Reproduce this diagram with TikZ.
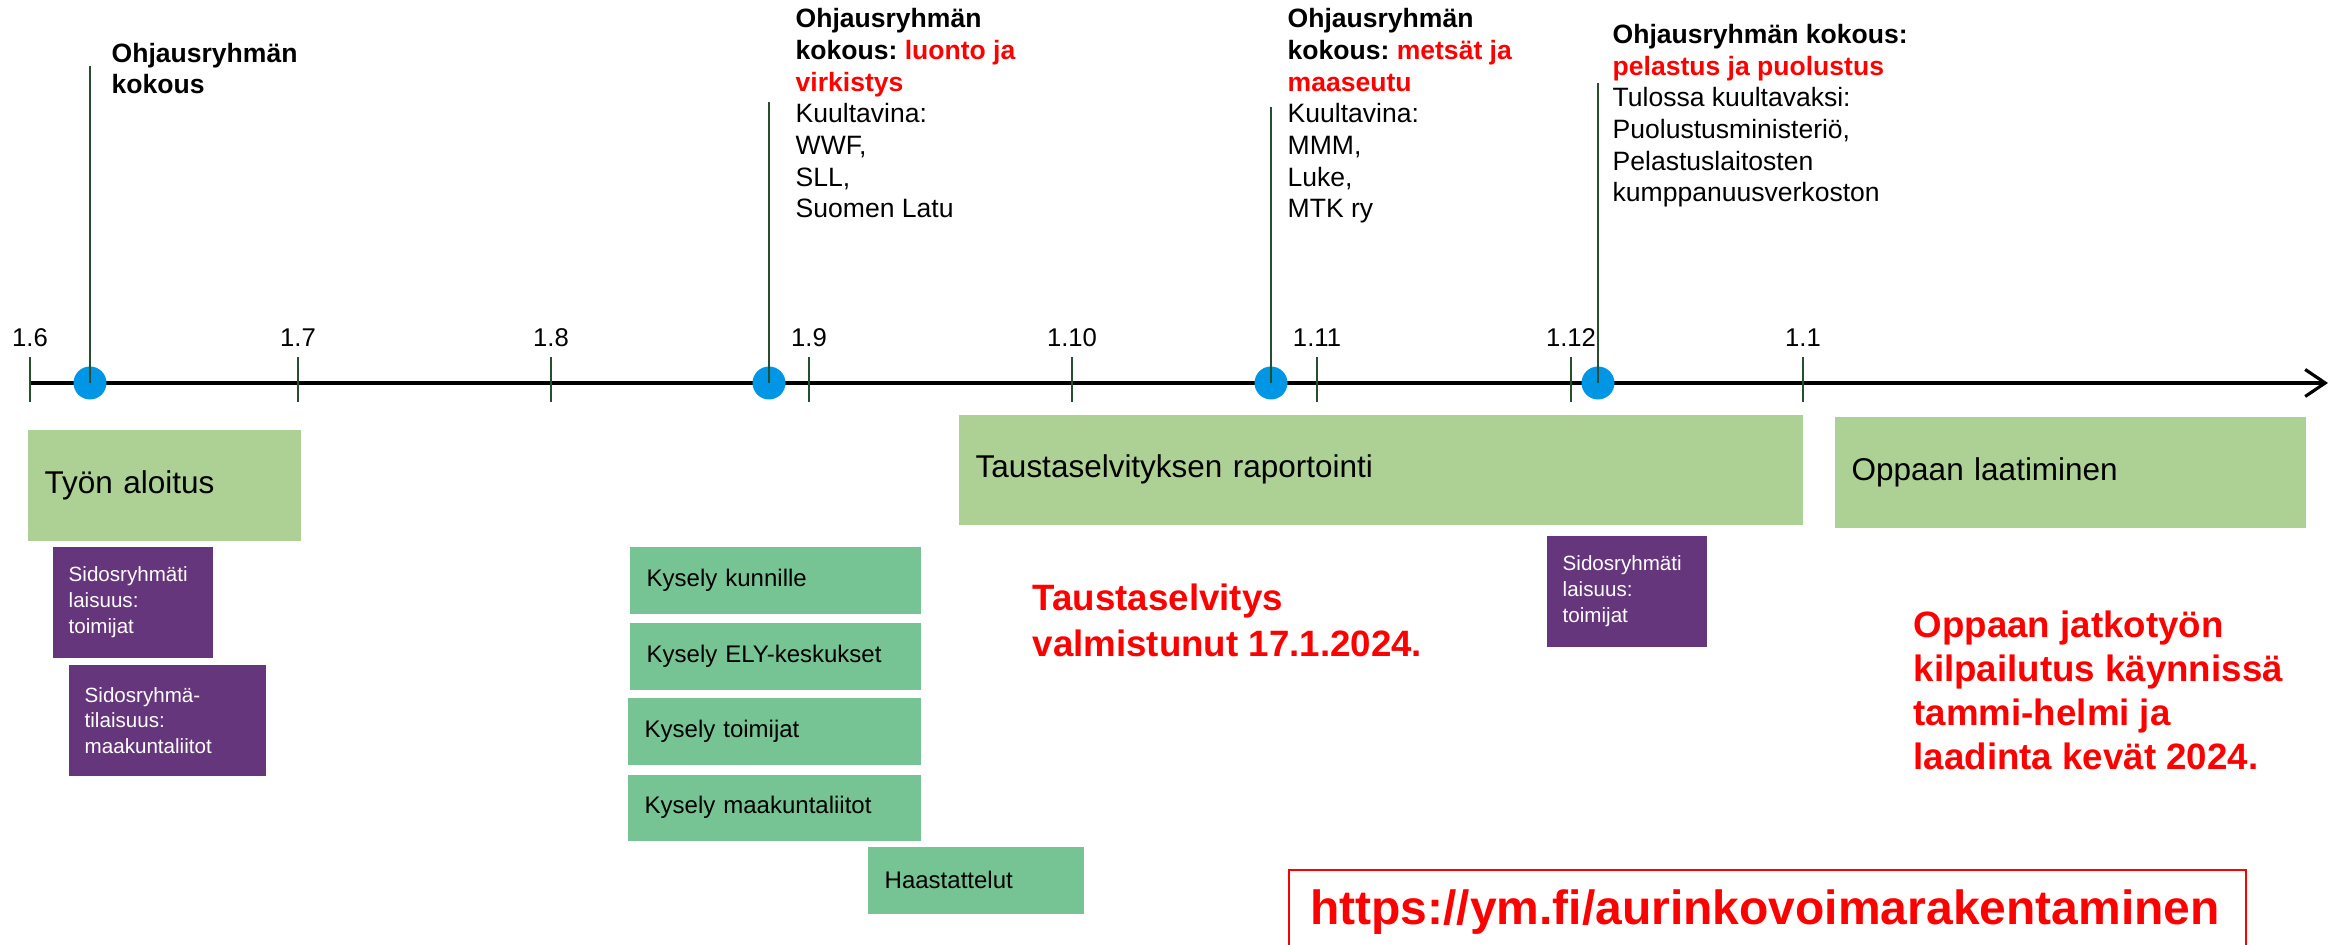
\documentclass[tikz,border=0pt]{standalone}
\usepackage{fontspec}
\setmainfont{Liberation Sans}
\frenchspacing
\usetikzlibrary{arrows.meta}
\definecolor{phasegreen}{RGB}{173,209,149}
\definecolor{taskgreen}{RGB}{118,195,147}
\definecolor{eventpurple}{RGB}{102,54,125}
\definecolor{dotblue}{RGB}{0,150,230}
\definecolor{stemgreen}{RGB}{40,78,48}

\begin{document}
\begin{tikzpicture}[
  timeline/.style={line width=0.9pt,-{Straight Barb[length=2mm,width=2.7mm]}},
  tickline/.style={draw=stemgreen,line width=0.55pt},
  stem/.style={draw=stemgreen,line width=0.55pt},
  dot/.style={circle,fill=dotblue,minimum size=3.3mm,inner sep=0pt},
  datelabel/.style={anchor=base,inner sep=0pt,font=\fontsize{7.3}{8.8}\selectfont},
  head/.style={anchor=base west,align=left,inner sep=0pt,font=\fontsize{7.55}{9.02}\selectfont},
  phase/.style={anchor=north west,fill=phasegreen,inner xsep=1.7mm,inner ysep=0pt,align=left,font=\fontsize{8.96}{10.8}\selectfont},
  task/.style={anchor=north west,fill=taskgreen,inner xsep=1.7mm,inner ysep=0pt,align=left,minimum height=6.7mm,font=\fontsize{6.83}{8.2}\selectfont},
  meet/.style={anchor=north west,fill=eventpurple,text=white,inner xsep=1.6mm,inner ysep=0pt,align=left,minimum height=11.1mm,font=\fontsize{5.86}{7.26}\selectfont},
  note/.style={anchor=base west,align=left,inner sep=0pt,text=red,font=\bfseries\fontsize{10.44}{13.1}\selectfont},
  link/.style={anchor=north west,draw=red,line width=0.6pt,inner xsep=2.1mm,inner ysep=0pt,text=red,font=\bfseries\fontsize{13.66}{16}\selectfont}]
\useasboundingbox (0,0) rectangle (23.31,9.45);

% Time axis with month ticks.
\coordinate (t0) at (0.30,5.62);
\coordinate (tend) at (23.28,5.62);
\draw[timeline] (t0) -- (tend);
\foreach \x/\m [count=\i] in {0.30/6,2.98/7,5.51/8,8.09/9,10.72/10,13.17/11,15.71/12,18.03/1} {
  \draw[tickline] (\x,5.43) -- (\x,5.88);
  \node[datelabel] (m\i) at (\x,5.98) {1.\m};
}

% Steering group meetings; multi-line labels sit on their last baseline.
\node[dot] (d1) at (0.90,5.62) {};
\node[dot] (d2) at (7.69,5.62) {};
\node[dot] (d3) at (12.71,5.62) {};
\node[dot] (d4) at (15.98,5.62) {};
\coordinate (d1top) at (0.90,8.79);
\coordinate (d2top) at (7.69,8.43);
\coordinate (d3top) at (12.71,8.38);
\coordinate (d4top) at (15.98,8.62);
\draw[stem] (d1.center) -- (d1top);
\draw[stem] (d2.center) -- (d2top);
\draw[stem] (d3.center) -- (d3top);
\draw[stem] (d4.center) -- (d4top);

\node[head] (kok1) at (1.11,8.51) {\textbf{Ohjausryhmän}\\\textbf{kokous}};
\node[head] (kok2) at (7.95,7.27) {\textbf{Ohjausryhmän}\\\textbf{kokous: \textcolor{red}{luonto ja}}\\\textbf{\textcolor{red}{virkistys}}\\Kuultavina:\\WWF,\\SLL,\\Suomen Latu};
\node[head] (kok3) at (12.87,7.27) {\textbf{Ohjausryhmän}\\\textbf{kokous: \textcolor{red}{metsät ja}}\\\textbf{\textcolor{red}{maaseutu}}\\Kuultavina:\\MMM,\\Luke,\\MTK ry};
\node[head] (kok4) at (16.12,7.43) {\textbf{Ohjausryhmän kokous:}\\\textbf{\textcolor{red}{pelastus ja puolustus}}\\Tulossa kuultavaksi:\\Puolustusministeriö,\\Pelastuslaitosten\\kumppanuusverkoston};

% Work phases below the axis.
\node[phase,text width=2.39cm,minimum height=11.1mm] (tyon) at (0.27,5.16) {Työn aloitus};
\node[phase,text width=8.10cm,minimum height=11.0mm] (raportointi) at (9.58,5.31) {Taustaselvityksen raportointi};
\node[phase,text width=4.37cm,minimum height=11.1mm] (opas) at (18.34,5.29) {Oppaan laatiminen};

\node[meet,text width=1.28cm] (sid1) at (0.52,3.99) {Sidosryhmäti\\laisuus:\\toimijat};
\node[meet,text width=1.65cm] (sid2) at (0.68,2.81) {Sidosryhmä-\\tilaisuus:\\maakuntaliitot};
\node[meet,text width=1.28cm] (sid3) at (15.46,4.10) {Sidosryhmäti\\laisuus:\\toimijat};

\node[task,text width=2.57cm] (kunnat) at (6.29,3.99) {Kysely kunnille};
\node[task,text width=2.57cm] (ely) at (6.29,3.23) {Kysely ELY-keskukset};
\node[task,text width=2.59cm] (toimijat) at (6.27,2.48) {Kysely toimijat};
\node[task,text width=2.59cm,minimum height=6.6mm] (maakunnat) at (6.27,1.71) {Kysely maakuntaliitot};
\node[task,text width=1.82cm] (haastattelut) at (8.67,0.99) {Haastattelut};

\node[note] (valmis) at (10.32,2.88) {Taustaselvitys\\valmistunut 17.1.2024.};
\node[note,font=\bfseries\fontsize{10.44}{12.6}\selectfont] (jatko) at (19.13,1.75) {Oppaan jatkotyön\\kilpailutus käynnissä\\tammi-helmi ja\\laadinta kevät 2024.};

\node[link,text width=9.15cm,minimum height=8.4mm] (url) at (12.88,0.76) {https://ym.fi/aurinkovoimarakentaminen};
\end{tikzpicture}
\end{document}
